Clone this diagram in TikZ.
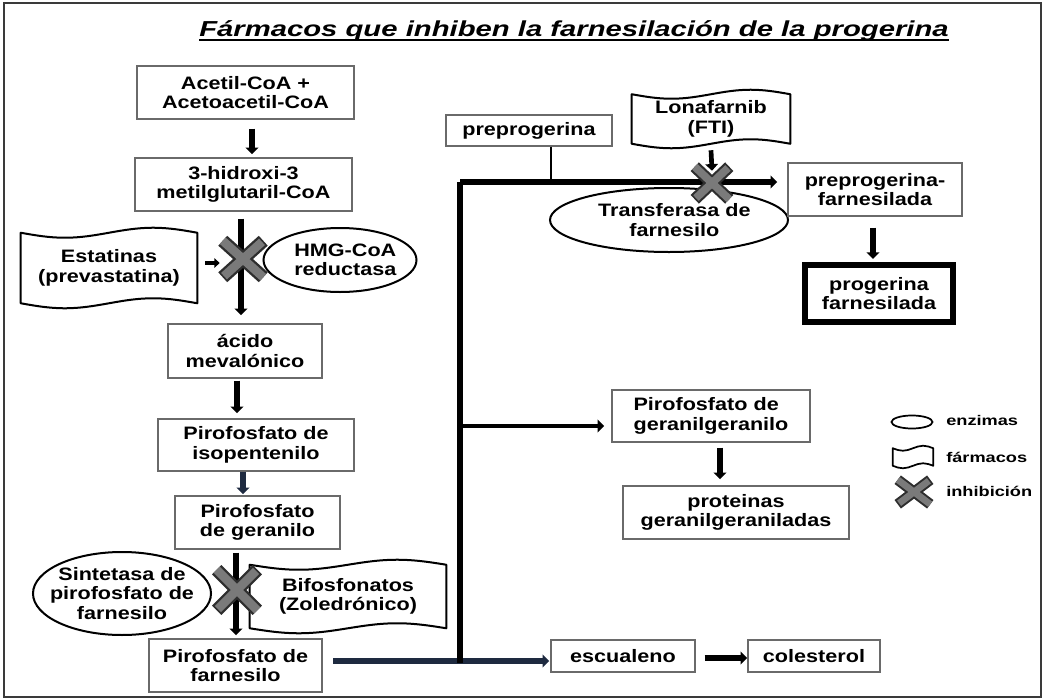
\documentclass[tikz,border=0pt]{standalone}
\usepackage{fontspec}
\setmainfont{Liberation Sans}[FakeStretch=1.2]
\newfontfamily\titlefont{Liberation Sans}[FakeStretch=1.35]
\newfontfamily\legfont{Liberation Sans}[FakeStretch=1.3]
\usetikzlibrary{arrows.meta,shapes.geometric,calc}
\definecolor{boxgray}{HTML}{6A6A6A}
\definecolor{framegray}{HTML}{3A3A3A}
\definecolor{xfill}{HTML}{7A7A7A}
\definecolor{xedge}{HTML}{2E2E2E}
\definecolor{navyline}{HTML}{1E2A40}
\newcommand\boxfont{\bfseries\fontsize{13.5}{14.5}\selectfont}
\newcommand\legtext{\legfont\bfseries\fontsize{10.5}{12}\selectfont}
\newcommand\drawX[3]{%
  \draw[xedge, line width=#2] (#1.north west) -- (#1.south east) (#1.north east) -- (#1.south west);
  \draw[xfill, line width=#3, shorten <=1.3pt, shorten >=1.3pt] (#1.north west) -- (#1.south east) (#1.north east) -- (#1.south west);}
\newcommand\drawflag[3][]{%
  \draw[flagline,#1]
   ($(#2.north west)+(0,#3)$)
   sin ($(#2.north west)!0.25!(#2.north east)+(0,2*#3)$)
   cos ($(#2.north west)!0.5!(#2.north east)+(0,#3)$)
   sin ($(#2.north west)!0.75!(#2.north east)$)
   cos ($(#2.north east)+(0,#3)$)
   -- ($(#2.south east)+(0,-#3)$)
   sin ($(#2.south west)!0.75!(#2.south east)+(0,-2*#3)$)
   cos ($(#2.south west)!0.5!(#2.south east)+(0,-#3)$)
   sin ($(#2.south west)!0.25!(#2.south east)$)
   cos ($(#2.south west)+(0,-#3)$)
   -- cycle;}
\begin{document}
\begin{tikzpicture}[x=0.75pt,y=-0.75pt,
  sz/.style 2 args={minimum width=#1*0.75pt, minimum height=#2*0.75pt},
  box/.style={draw=boxgray, line width=1.1pt, fill=white, inner sep=0pt, align=center, font=\boxfont},
  thickbox/.style={draw=black, line width=4.5pt, fill=white, inner sep=0pt, align=center, font=\boxfont},
  enz/.style={ellipse, draw=black, line width=1.5pt, fill=white, inner sep=0pt},
  lbl/.style={font=\boxfont, align=center, inner sep=0pt},
  drug/.style={inner sep=0pt, align=center, font=\boxfont},
  flagline/.style={draw=black, line width=1.5pt, line join=round},
  xbox/.style={inner sep=0pt},
  arr/.style={line width=4pt, -{Triangle[length=5pt,width=9.5pt]}},
  legtxt/.style={font=\legtext, anchor=west, inner sep=0pt}
]
\useasboundingbox (0,0) rectangle (1051,700);
\fill[white] (0,0) rectangle (1051,700);
\draw[framegray, line width=2.2pt] (4,3) rectangle (1041,697);

% title
\node[font=\titlefont\bfseries\itshape\fontsize{16.25}{18}\selectfont, anchor=base, inner sep=0pt] (title) at (574,36) {Fármacos que inhiben la farnesilación de la progerina};
\draw[line width=1.4pt] ($(title.base west)+(0,4)$) -- ($(title.base east)+(0,4)$);

% left column
\node[box, sz={217}{53}] (acet) at (245.5,92.5) {Acetil-CoA +\\Acetoacetil-CoA};
\node[box, sz={217}{53}] (hid) at (243.5,184.5) {3-hidroxi-3\\metilglutaril-CoA};
\node[drug, sz={176}{80}] (estat) at (109,268) {Estatinas\\(prevastatina)};
\node[xbox, sz={40}{36}] (x1) at (243,259) {};
\node[enz, sz={153}{64}, label={[lbl,xshift=4pt]center:{HMG-CoA\\reductasa}}] (hmg) at (340,260) {};
\node[box, sz={154}{54}] (acido) at (245,351) {ácido\\mevalónico};
\node[box, sz={196}{52}] (iso) at (256,445) {Pirofosfato de\\isopentenilo};
\node[box, sz={165}{53}] (ger) at (257.5,522.5) {Pirofosfato\\de geranilo};
\node[xbox, sz={40}{40}] (x2) at (237,590) {};
\node[enz, sz={178}{83}, label={[lbl]center:{Sintetasa de\\pirofosfato de\\farnesilo}}] (sint) at (122,593.5) {};
\node[drug, sz={196}{73}] (bifo) at (348,596.5) {Bifosfonatos\\(Zoledrónico)};
\node[box, sz={173}{53}] (farn) at (235.5,665.5) {Pirofosfato de\\farnesilo};

% right part
\node[box, sz={166}{31}] (prepro) at (529,130.5) {preprogerina};
\node[drug, sz={158}{58}] (lona) at (711,119) {Lonafarnib\\(FTI)};
\node[xbox, sz={34}{32}] (xl) at (712,183) {};
\node[enz, sz={238}{64}, label={[lbl,xshift=4pt]center:{Transferasa de\\farnesilo}}] (trans) at (669,220) {};
\node[box, sz={174}{53}] (ppf) at (875,189.5) {preprogerina-\\farnesilada};
\node[thickbox, sz={148}{57}] (prog) at (879,293.5) {progerina\\farnesilada};
\node[box, sz={198}{52}, align=left] (gg) at (711,416) {Pirofosfato de\\geranilgeranilo};
\node[box, sz={226}{53}] (prot) at (736,512.5) {proteinas\\geranilgeraniladas};
\node[box, sz={144}{32}] (esc) at (623,656) {escualeno};
\node[box, sz={132}{32}] (col) at (814,656) {colesterol};

% legend
\node[enz, line width=1.3pt, sz={41}{13}] (lell) at (912,422) {};
\node[drug, sz={40}{22}] (ltape) at (913,457) {};
\node[xbox, sz={32}{24}] (lx) at (914,492) {};
\node[legtxt] (tenz) at (946,420) {enzimas};
\node[legtxt] (tfar) at (946,457) {fármacos};
\node[legtxt] (tinh) at (946,491) {inhibición};

% drug flags
\drawflag{estat}{5}
\drawflag{bifo}{5}
\drawflag{lona}{4.5}
\drawflag[line width=1.3pt]{ltape}{2.5}

% trunk coordinates
\coordinate (trunkTop) at (460,182);
\coordinate (trunkMid) at (460,426);
\coordinate (trunkBot) at (460,663);
\coordinate (pj) at (551,182);
\coordinate (fline) at (333,661);

% connectors
\draw[arr] ($(acet.south)+(6.5,9)$) -- ($(hid.north)+(8.5,-3)$);
\draw[arr] ($(hid.south)+(-2.5,7)$) -- ($(acido.north)+(-4,-8)$);
\draw[line width=3pt, -{Triangle[length=4pt,width=7pt]}] ($(estat.east)+(8,-5)$) -- ($(x1.west)+(-3,4)$);
\draw[arr] ($(acido.south)+(-8,2)$) -- ($(iso.north)+(-19,-5)$);
\draw[arr, navyline] ($(iso.south)+(-13,0)$) -- ($(ger.north)+(-14.5,-1)$);
\draw[arr] ($(ger.south)+(-21.5,3)$) -- ($(farn.north)+(0.5,-3)$);
\draw[arr, navyline, line width=4.5pt] (fline) -- ($(fline -| esc.west)+(-1,0)$);
\draw[line width=4pt] (trunkBot) -- (trunkTop);
\draw[arr, line cap=butt] (trunkTop) -- ($(trunkTop -| ppf.west)+(-10,0)$);
\draw[arr, line width=3.5pt] (trunkMid) -- ($(trunkMid -| gg.west)+(-7,0)$);
\draw[line width=2.2pt] (pj |- prepro.south) -- (pj);
\draw[arr, line width=3.5pt] ($(lona.south)+(0,2)$) -- ($(xl.north)+(0,4)$);
\draw[arr] ($(ppf.south)+(-2,11)$) -- ($(prog.north)+(-6,-3)$);
\draw[arr] ($(gg.south)+(9,5)$) -- ($(prot.north)+(-16,-6)$);
\draw[arr] ($(esc.east)+(9,2)$) -- ($(col.west)+(0,2)$);

% inhibition marks
\drawX{x1}{10pt}{6.5pt}
\drawX{x2}{10pt}{6.5pt}
\drawX{xl}{9pt}{5.8pt}
\drawX{lx}{8pt}{5pt}
\end{tikzpicture}
\end{document}
